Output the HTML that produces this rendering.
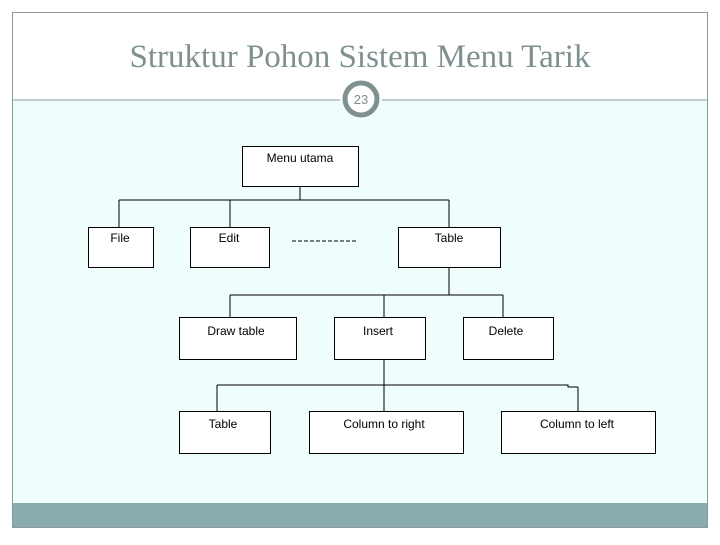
<!DOCTYPE html>
<html><head><style>
body{margin:0;width:720px;height:540px;background:#fff;overflow:hidden}
</style></head><body>
<svg width="720" height="540" xmlns="http://www.w3.org/2000/svg" font-family="Liberation Sans, sans-serif">
<rect x="12" y="100" width="696" height="403" fill="#effdfc"/>
<rect x="12" y="503" width="696" height="25" fill="#8aacac"/>
<rect x="12.5" y="12.5" width="695" height="515" fill="none" stroke="#8a9a9a" stroke-width="1"/>
<text x="360" y="67" text-anchor="middle" font-family="Liberation Serif, serif" font-size="33" fill="#7f9090">Struktur Pohon Sistem Menu Tarik</text>
<line x1="12" y1="100" x2="340" y2="100" stroke="#8a9a9a"/>
<line x1="382" y1="100" x2="708" y2="100" stroke="#8a9a9a"/>
<circle cx="361" cy="99" r="19" fill="#fff"/>
<circle cx="361" cy="99" r="16" fill="#fff" stroke="#7f9090" stroke-width="5"/>
<text x="361" y="104" text-anchor="middle" font-size="13" fill="#7f9090">23</text>
<g stroke="#000" stroke-width="1" fill="none">
<path d="M300 186V200M119 200H449M119 200V227M230 200V227M449 200V227"/>
<path d="M449 267V295M230 295H503M230 295V317M384 295V317M503 295V317"/>
<path d="M384 359V385M217 385H568V387H578M217 385V411M384 385V411M578 387V411"/>
<path d="M292 241H358" stroke-dasharray="4,2"/>
</g>
<g stroke="#000" fill="#fff">
<rect x="242.5" y="146.5" width="116" height="40"/>
<rect x="88.5" y="227.5" width="65" height="40"/>
<rect x="190.5" y="227.5" width="79" height="40"/>
<rect x="398.5" y="227.5" width="102" height="40"/>
<rect x="179.5" y="317.5" width="117" height="42"/>
<rect x="334.5" y="317.5" width="91" height="42"/>
<rect x="463.5" y="317.5" width="90" height="42"/>
<rect x="179.5" y="411.5" width="91" height="42"/>
<rect x="309.5" y="411.5" width="154" height="42"/>
<rect x="501.5" y="411.5" width="154" height="42"/>
</g>
<g font-size="12" text-anchor="middle" fill="#000">
<text x="300" y="162">Menu utama</text>
<text x="120" y="242">File</text>
<text x="229" y="242">Edit</text>
<text x="449" y="242">Table</text>
<text x="236" y="335">Draw table</text>
<text x="378" y="335">Insert</text>
<text x="506" y="335">Delete</text>
<text x="223" y="428">Table</text>
<text x="384" y="428">Column to right</text>
<text x="577" y="428">Column to left</text>
</g>
</svg>
</body></html>
